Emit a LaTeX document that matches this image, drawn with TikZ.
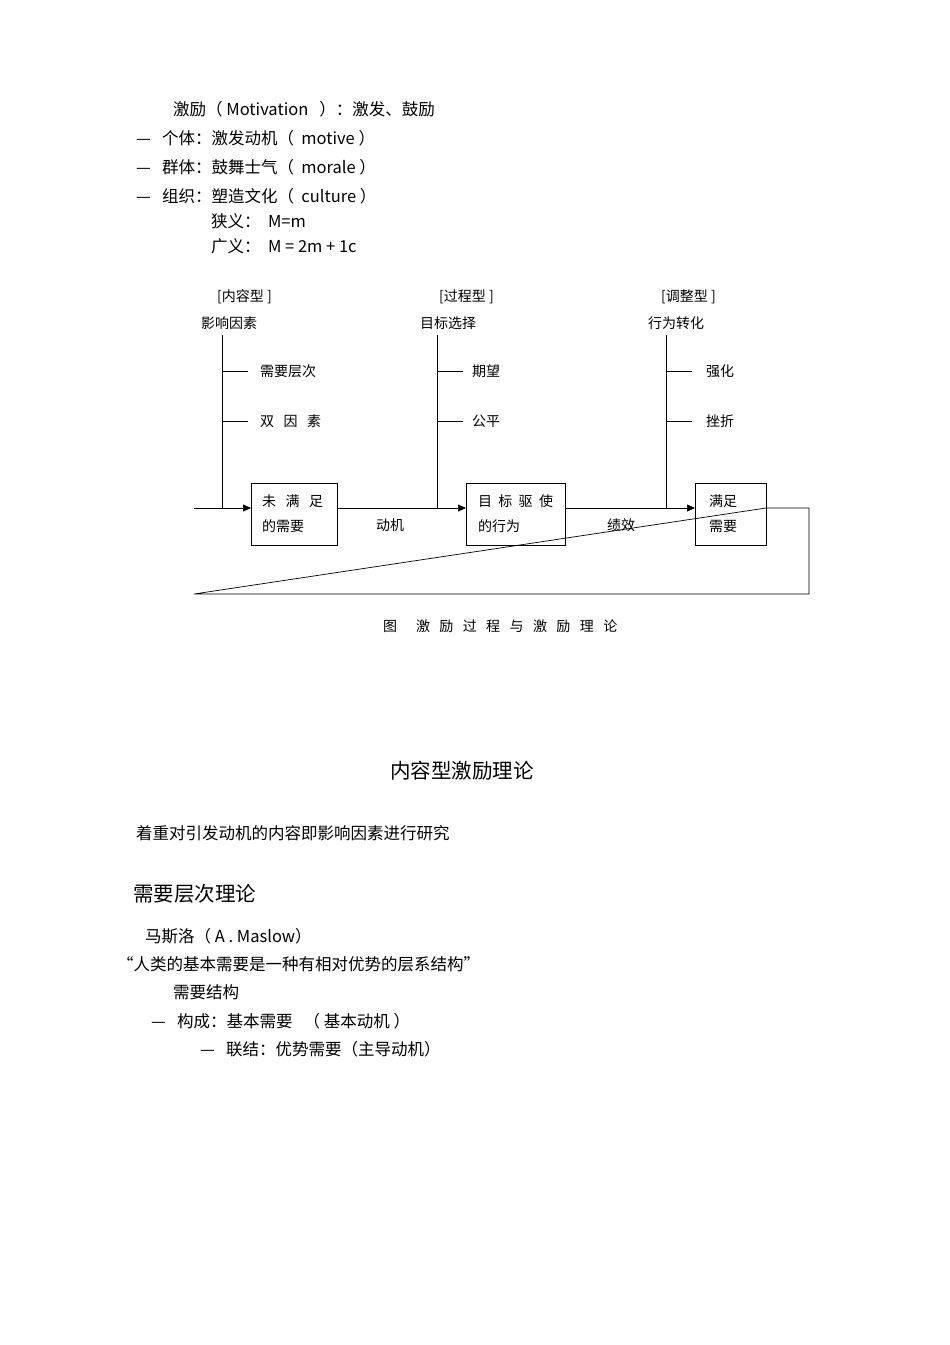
\documentclass[tikz,border=0pt]{standalone}
\usepackage{fontspec}
\setmainfont{Liberation Sans}
\newfontfamily\cjk{Noto Sans CJK SC}
\usetikzlibrary{arrows.meta}
\begin{document}
\begin{tikzpicture}[x=1pt,y=-1pt,
  t/.style={anchor=west,inner sep=0pt,font=\cjk\fontsize{16.5}{16}\selectfont},
  d/.style={anchor=west,inner sep=0pt,font=\cjk\fontsize{14}{14}\selectfont},
  h/.style={anchor=west,inner sep=0pt,font=\cjk\fontsize{20.5}{20}\selectfont},
  bx/.style={draw,line width=0.8pt,minimum width=#1,minimum height=62pt,inner sep=0pt},
  ln/.style={line width=0.7pt},
  ar/.style={ln,-{Triangle[length=8pt,width=7pt]}}]
\useasboundingbox (0,0) rectangle (950,1345);
\node[t] (l1) at (173,109) {激励（ Motivation \ \ ）：激发、鼓励};
\node[t] (l2) at (136,138) {—\ \ \ 个体：激发动机（ \ motive ）};
\node[t] (l3) at (136,167) {—\ \ \ 群体：鼓舞士气（ \ morale ）};
\node[t] (l4) at (136,196) {—\ \ \ 组织：塑造文化（ \ culture ）};
\node[t] (l5) at (211,221) {狭义： \ M=m};
\node[t] (l6) at (211,246) {广义： \ M = 2m + 1c};
% diagram
\node[d] (c1) at (217,297) {[内容型 ]};
\node[d] (c2) at (439,297) {[过程型 ]};
\node[d] (c3) at (661,297) {[调整型 ]};
\node[d] (f1) at (201,323) {影响因素};
\node[d] (f2) at (420,323) {目标选择};
\node[d] (f3) at (648,323) {行为转化};
\node[bx=86pt] (b1) at (294,514) {};
\node[bx=99pt] (b2) at (515.5,514) {};
\node[bx=71pt] (b3) at (730.5,514) {};
\node[d] (b1a) at (262,501) {未\ \ \ 满\ \ \ 足};
\node[d] (b1b) at (262,526) {的需要};
\node[d] (b2a) at (478,501) {目\ \ 标\ \ 驱\ \ 使};
\node[d] (b2b) at (478,526) {的行为};
\node[d] (b3a) at (709,501) {满足};
\node[d] (b3b) at (709,526) {需要};
\node[d] (m1) at (376,525) {动机};
\node[d] (m2) at (607,525) {绩效};
\coordinate (v1t) at (222,335); \coordinate (v1b) at (222,508);
\coordinate (v2t) at (437,335); \coordinate (v2b) at (437,508);
\coordinate (v3t) at (666,335); \coordinate (v3b) at (666,508);
\draw[ln] (v1t) -- (v1b); \draw[ln] (v2t) -- (v2b); \draw[ln] (v3t) -- (v3b);
\node[d] (s1) at (260,371) {需要层次};
\node[d] (s2) at (260,421) {双\ \ \ 因\ \ \ 素};
\node[d] (s3) at (472,371) {期望};
\node[d] (s4) at (472,421) {公平};
\node[d] (s5) at (706,371) {强化};
\node[d] (s6) at (706,421) {挫折};
\foreach \x in {222,437,666}{
  \draw[ln] (\x,371) -- ++(26,0); \draw[ln] (\x,421) -- ++(26,0);}
\coordinate (L) at (194,508); \coordinate (Lb) at (194,594);
\coordinate (R) at (809,508); \coordinate (Rb) at (809,594);
\coordinate (b1w) at (251,508); \coordinate (b1e) at (337,508);
\coordinate (b2w) at (466,508); \coordinate (b2e) at (565,508);
\coordinate (b3w) at (695,508); \coordinate (b3e) at (766,508);
\draw[ar] (L) -- (b1w);
\draw[ar] (b1e) -- (b2w);
\draw[ar] (b2e) -- (b3w);
\draw[ln] (b3e) -- (R) -- (Rb) -- (Lb) -- cycle;
\node[d] (cap) at (383,626) {图\ \ \ \ \ \ 激\ \ \ 励\ \ \ 过\ \ \ 程\ \ \ 与\ \ \ 激\ \ \ 励\ \ \ 理\ \ \ 论};
% lower text
\node[h] (h1) at (390,771) {内容型激励理论};
\node[t] (p1) at (136,833) {着重对引发动机的内容即影响因素进行研究};
\node[h] (h2) at (133,894) {需要层次理论};
\node[t] (p2) at (145,936) {马斯洛（ A . Maslow）};
\node[t] (p3) at (117,964) {“人类的基本需要是一种有相对优势的层系结构”};
\node[t] (p4) at (173,992) {需要结构};
\node[t] (p5) at (151,1021) {—\ \ \ 构成：基本需要 \ \ （ 基本动机 ）};
\node[t] (p6) at (200,1049) {—\ \ \ 联结：优势需要（主导动机）};
\end{tikzpicture}
\end{document}
